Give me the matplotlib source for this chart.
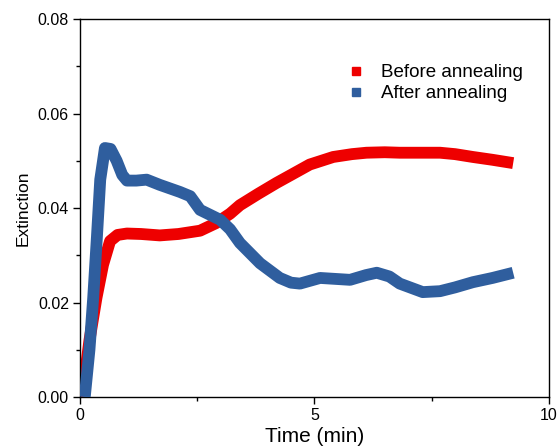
import matplotlib
matplotlib.use("Agg")
import matplotlib.pyplot as plt
from matplotlib.lines import Line2D

plt.rcParams['font.family'] = ['Liberation Sans', 'DejaVu Sans']

t_before = [0.04, 0.2, 0.35, 0.49, 0.64, 0.8, 1.0, 1.3, 1.7, 2.1, 2.56, 2.9, 3.2, 3.41, 3.8, 4.19, 4.5, 4.9, 5.4, 5.8, 6.11, 6.5, 6.82, 7.2, 7.68, 8.0, 8.38, 8.8, 9.24]
v_before = [0.000, 0.012, 0.021, 0.028, 0.033, 0.0343, 0.0346, 0.0345, 0.0342, 0.0345, 0.0352, 0.0368, 0.0388, 0.0406, 0.0430, 0.0453, 0.0470, 0.0492, 0.0508, 0.0514, 0.0517, 0.0518, 0.0517, 0.0517, 0.0517, 0.0514, 0.0508, 0.0502, 0.0495]

t_after = [0.1, 0.2, 0.28, 0.36, 0.43, 0.53, 0.65, 0.78, 0.9, 1.0, 1.2, 1.42, 1.7, 2.13, 2.35, 2.56, 2.99, 3.2, 3.41, 3.84, 4.26, 4.5, 4.69, 5.12, 5.76, 6.1, 6.33, 6.6, 6.82, 7.31, 7.68, 8.0, 8.38, 8.8, 9.24]
v_after = [0.000, 0.010, 0.021, 0.034, 0.046, 0.0527, 0.0525, 0.050, 0.047, 0.0458, 0.0458, 0.0460, 0.0449, 0.0434, 0.0425, 0.0396, 0.0375, 0.0355, 0.0326, 0.0283, 0.0252, 0.0242, 0.0240, 0.0252, 0.0248, 0.0258, 0.0263, 0.0255, 0.0240, 0.0222, 0.0224, 0.0232, 0.0243, 0.0252, 0.0263]

x_ticks = [0, 5, 10]
y_ticks = [0.00, 0.02, 0.04, 0.06, 0.08]

red = '#EE0000'
blue = '#2F5E9E'

fig = plt.figure(figsize=(5.6, 4.48), dpi=100)
ax = fig.add_axes([0.143, 0.1138, 0.837, 0.8438])

ax.plot(t_before, v_before, color=red, lw=8.5, solid_capstyle='butt', solid_joinstyle='round', zorder=2)
ax.plot(t_after, v_after, color=blue, lw=8.5, solid_capstyle='butt', solid_joinstyle='round', zorder=3)

ax.set_xlim(0, 10)
ax.set_ylim(0, 0.08)
ax.set_xticks(x_ticks)
ax.set_yticks(y_ticks)
ax.set_xticklabels([str(v) for v in x_ticks])
ax.set_yticklabels([f"{v:.2f}" for v in y_ticks])
ax.set_xticks([2.5, 7.5], minor=True)
ax.set_yticks([0.01, 0.03, 0.05, 0.07], minor=True)
ax.tick_params(which='major', direction='out', length=5, width=1, labelsize=11.5, pad=3)
ax.tick_params(which='minor', direction='out', length=3, width=1)
for s in ax.spines.values():
    s.set_linewidth(1)

ax.set_xlabel('Time (min)', fontsize=15, labelpad=3)
ax.set_ylabel('Extinction', fontsize=12.5, labelpad=5)

handles = [Line2D([], [], marker='s', color=red, ls='none', markersize=6),
           Line2D([], [], marker='s', color=blue, ls='none', markersize=6)]
ax.legend(handles, ['Before annealing', 'After annealing'], loc='upper left',
          bbox_to_anchor=(0.523, 0.925), frameon=False, fontsize=13.5,
          handletextpad=0.6, labelspacing=0.2, handlelength=1.5)

fig.savefig('out.png', dpi=100)
